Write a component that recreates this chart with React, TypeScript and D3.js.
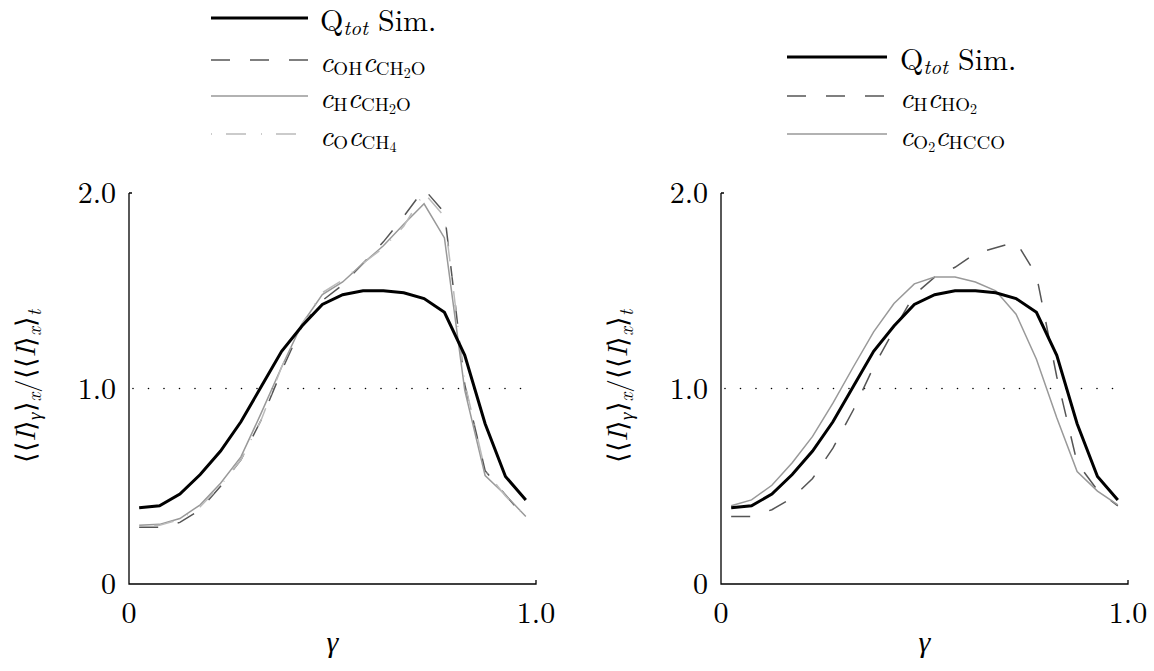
import React from 'react';
import * as d3 from 'd3';

// ---- data ----
const gamma = [0.025, 0.075, 0.125, 0.175, 0.225, 0.275, 0.325, 0.375, 0.425, 0.475,
  0.525, 0.575, 0.625, 0.675, 0.725, 0.775, 0.825, 0.875, 0.925, 0.975];

const qTotSim = [0.39, 0.40, 0.46, 0.56, 0.68, 0.83, 1.01, 1.19, 1.32, 1.43,
  1.48, 1.50, 1.50, 1.49, 1.46, 1.39, 1.17, 0.82, 0.55, 0.43];

const cOHcCH2O = [0.29, 0.29, 0.315, 0.38, 0.50, 0.635, 0.84, 1.09, 1.32, 1.45,
  1.53, 1.64, 1.75, 1.88, 2.02, 1.90, 1.02, 0.58, 0.455, 0.335];

const cHcCH2O = [0.30, 0.305, 0.335, 0.405, 0.515, 0.65, 0.875, 1.11, 1.33, 1.48,
  1.545, 1.64, 1.73, 1.84, 1.945, 1.77, 0.99, 0.555, 0.455, 0.345];

const cOcCH4 = [0.295, 0.30, 0.33, 0.395, 0.505, 0.635, 0.84, 1.11, 1.33, 1.49,
  1.555, 1.64, 1.72, 1.83, 2.0, 1.88, 1.03, 0.58, 0.45, 0.345];

const cHcHO2 = [0.345, 0.345, 0.38, 0.44, 0.54, 0.695, 0.89, 1.11, 1.30, 1.48,
  1.57, 1.62, 1.69, 1.72, 1.75, 1.58, 1.06, 0.62, 0.48, 0.40];

const cO2cHCCO = [0.40, 0.43, 0.505, 0.62, 0.755, 0.925, 1.11, 1.29, 1.435, 1.535,
  1.57, 1.57, 1.545, 1.50, 1.38, 1.15, 0.85, 0.575, 0.475, 0.405];

const xTicks = [0, 1.0];
const xTickLabels = ['0', '1.0'];
const yTicks = [0, 1.0, 2.0];
const yTickLabels = ['0', '1.0', '2.0'];
const refLevel = 1.0;

// ---- layout / styles ----
const FONT = "'Latin Modern Roman', 'Liberation Serif', serif";
const W = 407, H = 391;

type Part = [string, number, boolean]; // text, level, italic

const qLabel: Part[] = [['Q', 0, false], ['tot', 1, true], [' Sim.', 0, false]];
const lab_cOHcCH2O: Part[] = [['c', 0, true], ['OH', 1, false], ['c', 0, true], ['CH', 1, false], ['2', 2, false], ['O', 1, false]];
const lab_cHcCH2O: Part[] = [['c', 0, true], ['H', 1, false], ['c', 0, true], ['CH', 1, false], ['2', 2, false], ['O', 1, false]];
const lab_cOcCH4: Part[] = [['c', 0, true], ['O', 1, false], ['c', 0, true], ['CH', 1, false], ['4', 2, false]];
const lab_cHcHO2: Part[] = [['c', 0, true], ['H', 1, false], ['c', 0, true], ['HO', 1, false], ['2', 2, false]];
const lab_cO2cHCCO: Part[] = [['c', 0, true], ['O', 1, false], ['2', 2, false], ['c', 0, true], ['HCCO', 1, false]];
const yLabel: Part[] = [['⟨⟨', 0, false], ['I', 0, true], ['⟩', 0, false], ['γ', 1, true], ['⟩', 0, false], ['x', 1, true],
  ['/⟨⟨', 0, false], ['I', 0, true], ['⟩', 0, false], ['x', 1, true], ['⟩', 0, false], ['t', 1, true]];

const STYLE = {
  q: { stroke: '#000', width: 3, dash: undefined as string | undefined },
  dashed: { stroke: '#555', width: 1.5, dash: '19 20' },
  gray: { stroke: '#999', width: 1.5, dash: undefined as string | undefined },
  dashdot: { stroke: '#bbb', width: 1.5, dash: '1 14 20 15' },
};

const panels = [
  {
    left: 129, top: 193,
    series: [
      { values: cOHcCH2O, st: STYLE.dashed },
      { values: cHcCH2O, st: STYLE.gray },
      { values: cOcCH4, st: STYLE.dashdot },
      { values: qTotSim, st: STYLE.q },
    ],
    legend: { x1: 211, x2: 308, tx: 320, rows: [
      { y: 18, st: STYLE.q, label: qLabel, big: true },
      { y: 60, st: STYLE.dashed, label: lab_cOHcCH2O, big: false },
      { y: 96, st: STYLE.gray, label: lab_cHcCH2O, big: false },
      { y: 134, st: STYLE.dashdot, label: lab_cOcCH4, big: false },
    ] },
  },
  {
    left: 721, top: 193,
    series: [
      { values: cHcHO2, st: STYLE.dashed },
      { values: cO2cHCCO, st: STYLE.gray },
      { values: qTotSim, st: STYLE.q },
    ],
    legend: { x1: 787, x2: 887, tx: 900, rows: [
      { y: 57, st: STYLE.q, label: qLabel, big: true },
      { y: 96, st: STYLE.dashed, label: lab_cHcHO2, big: false },
      { y: 134, st: STYLE.gray, label: lab_cO2cHCCO, big: false },
    ] },
  },
];

function Rich({ parts, sizes, offs, ...rest }: any) {
  let cur = 0;
  return (
    <text style={{ fontFamily: FONT }} {...rest}>
      {parts.map((p: Part, i: number) => {
        const [t, lvl, it] = p;
        const target = offs[lvl];
        const dy = target - cur;
        cur = target;
        return (
          <tspan key={i} dy={dy} fontSize={sizes[lvl]} fontStyle={it ? 'italic' : 'normal'}>{t}</tspan>
        );
      })}
    </text>
  );
}

export default function App() {
  const x = d3.scaleLinear().domain([0, 1]).range([0, W]);
  const y = d3.scaleLinear().domain([0, 2]).range([H, 0]);
  const line = d3.line<number>().x((_, i) => x(gamma[i])).y((d) => y(d));
  const tf = { fontFamily: FONT };

  return (
    <svg width={1154} height={671} style={{ position: 'absolute', left: 0, top: 0, background: '#fff' }}>
      <rect width={1154} height={671} fill="#fff" />
      {panels.map((p, pi) => (
        <g key={pi}>
          <g transform={`translate(${p.left},${p.top})`}>
            <line x1={4} x2={W} y1={y(refLevel)} y2={y(refLevel)} stroke="#000" strokeWidth={1.6}
              strokeDasharray="0 15.5" strokeLinecap="round" />
            {p.series.map((s, si) => (
              <path key={si} d={line(s.values) || ''} fill="none" stroke={s.st.stroke}
                strokeWidth={s.st.width} strokeDasharray={s.st.dash} strokeLinejoin="miter" />
            ))}
            <path d={`M${x(0)},${y(2)}H${x(0) + 3}M${x(0)},${y(2)}V${y(0)}H${x(1)}V${y(0) - 4}`}
              fill="none" stroke="#000" strokeWidth={1.3} />
            {yTicks.map((t, i) => (
              <text key={i} x={-13} y={y(t) + 10} textAnchor="end" style={tf} fontSize={30}>{yTickLabels[i]}</text>
            ))}
            {xTicks.map((t, i) => (
              <text key={i} x={x(t)} y={H + 39} textAnchor="middle" style={tf} fontSize={30}>{xTickLabels[i]}</text>
            ))}
            <text x={W / 2} y={H + 68} textAnchor="middle" style={tf} fontSize={30} fontStyle="italic">γ</text>
            <Rich parts={yLabel} sizes={[27, 19, 13]} offs={[0, 6, 9]}
              transform={`translate(-94,${H / 2 - 2}) rotate(-90)`} textAnchor="middle" />
          </g>
          {p.legend.rows.map((r, ri) => (
            <g key={ri}>
              <line x1={p.legend.x1} x2={p.legend.x2} y1={r.y} y2={r.y} stroke={r.st.stroke}
                strokeWidth={r.st.width} strokeDasharray={r.st.dash} />
              {r.big ? (
                <Rich parts={r.label} sizes={[30, 21, 14]} offs={[0, 4, 7]} x={p.legend.tx} y={r.y + 13} />
              ) : (
                <Rich parts={r.label} sizes={[29, 19, 14]} offs={[0, 3, 6]} x={p.legend.tx} y={r.y + 12} />
              )}
            </g>
          ))}
        </g>
      ))}
    </svg>
  );
}
